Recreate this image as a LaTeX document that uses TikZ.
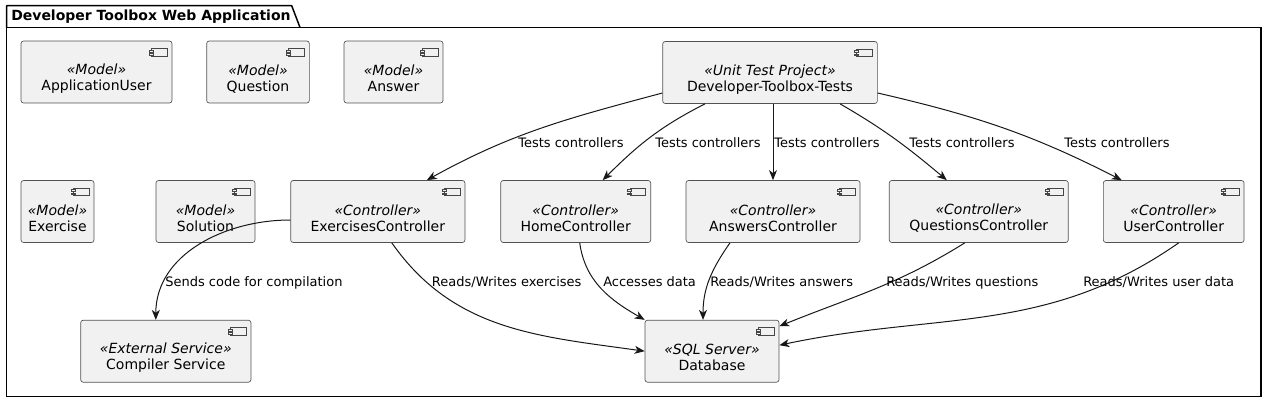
\documentclass[tikz,border=0pt]{standalone}
\usepackage{fontspec}
\setmainfont{DejaVu Sans}
\usetikzlibrary{arrows.meta}
\definecolor{boxfill}{HTML}{F1F1F1}
\definecolor{edge}{HTML}{181818}
\begin{document}
\begin{tikzpicture}[x=0.75pt, y=-0.75pt,
	comp/.style = {draw=edge!75, fill=boxfill, line width=0.5pt, rounded corners=1.9pt, inner sep=0pt, minimum height=46.5pt,
		path picture={
			\draw[draw=edge!80, line width=0.4pt, sharp corners] ([xshift=-15.5pt, yshift=-5.5pt]path picture bounding box.north east) rectangle ++(11.75pt,-5.75pt);
			\draw[draw=edge!80, fill=boxfill, line width=0.4pt, sharp corners] ([xshift=-17.25pt, yshift=-6.9pt]path picture bounding box.north east) rectangle ++(3pt,-1.3pt);
			\draw[draw=edge!80, fill=boxfill, line width=0.4pt, sharp corners] ([xshift=-17.25pt, yshift=-9.3pt]path picture bounding box.north east) rectangle ++(3pt,-1.3pt);
		}},
	txt/.style = {align=center, inner sep=0pt, yshift=-5pt, font=\fontsize{10.5}{12}\selectfont},
	lbl/.style = {anchor=base west, inner sep=0pt, font=\fontsize{9.75}{11}\selectfont},
	arr/.style = {draw=edge, line width=0.75pt, -{Stealth[length=7.5pt, width=6pt, inset=2.2pt]}}]
	\useasboundingbox (0,0) rectangle (1267,404);
	\draw[line width=1.1pt, line join=round] (6.7,27.5) -- (6.7,5.7) -- (291.7,5.7) -- (300,27.5);
	\draw[line width=1.1pt] (6.7,27.5) rectangle (1261,396.7);
	\node[anchor=base west, inner sep=0pt, font=\fontsize{10.5}{12}\selectfont\bfseries] (title) at (11,20.5) {Developer Toolbox Web Application};
	\node[comp, minimum width=113.25pt, label={[txt]center:{\textit{«Model»}\\ApplicationUser}}] (appuser) at (96.5,72) {};
	\node[comp, minimum width=77pt, label={[txt]center:{\textit{«Model»}\\Question}}] (question) at (258,72) {};
	\node[comp, minimum width=74.25pt, label={[txt]center:{\textit{«Model»}\\Answer}}] (answer) at (393.5,72) {};
	\node[comp, minimum width=161pt, label={[txt]center:{\textit{«Unit Test Project»}\\Developer-Toolbox-Tests}}] (tests) at (770,72.5) {};
	\node[comp, minimum width=54.75pt, label={[txt]center:{\textit{«Model»}\\Exercise}}] (exercise) at (57.5,211.5) {};
	\node[comp, minimum width=74.25pt, label={[txt]center:{\textit{«Model»}\\Solution}}] (solution) at (205.5,211.5) {};
	\node[comp, minimum width=130.7pt, label={[txt]center:{\textit{«Controller»}\\ExercisesController}}] (exctrl) at (377.8,211.5) {};
	\node[comp, minimum width=112.5pt, label={[txt]center:{\textit{«Controller»}\\HomeController}}] (homectrl) at (575.7,211.5) {};
	\node[comp, minimum width=130.5pt, label={[txt]center:{\textit{«Controller»}\\AnswersController}}] (answctrl) at (773,211.5) {};
	\node[comp, minimum width=134.25pt, label={[txt]center:{\textit{«Controller»}\\QuestionsController}}] (questctrl) at (978.8,211.5) {};
	\node[comp, minimum width=105.5pt, label={[txt]center:{\textit{«Controller»}\\UserController}}] (userctrl) at (1173.7,211.5) {};
	\node[comp, minimum width=127.7pt, label={[txt]center:{\textit{«External Service»}\\Compiler Service}}] (compiler) at (165.8,351.2) {};
	\node[comp, minimum width=100.5pt, label={[txt]center:{\textit{«SQL Server»}\\Database}}] (database) at (712,351.2) {};
	\draw[arr] ([shift={(0,20.5)}]tests.west) to[out=195, in=29] ([shift={(49,0)}]exctrl.north);
	\draw[arr] ([shift={(-65,0)}]tests.south) to[out=207, in=45] ([shift={(27,0)}]homectrl.north);
	\draw[arr] (answctrl.north |- tests.south) -- (answctrl.north);
	\draw[arr] ([shift={(70,0)}]tests.south) to[out=-30, in=140] ([shift={(-32,0)}]questctrl.north);
	\draw[arr] ([shift={(0,20.5)}]tests.east) to[out=-13, in=153] ([shift={(-52,0)}]userctrl.north);
	\draw[arr] ([shift={(0,8.5)}]exctrl.west) to[out=180, in=90] ([shift={(-10,0)}]compiler.north);
	\draw[arr] ([shift={(14,0)}]exctrl.south) to[out=-55, in=172] (database.west);
	\draw[arr] ([shift={(4,0)}]homectrl.south) to[out=-82, in=150] (database.north west);
	\draw[arr] ([shift={(-43,0)}]answctrl.south) to[out=-125, in=90] ([shift={(-9,0)}]database.north);
	\draw[arr] ([shift={(-14,0)}]questctrl.south) to[out=212, in=22] ([shift={(0,-25)}]database.east);
	\draw[arr] ([shift={(5,0)}]userctrl.south) to[out=215, in=12] ([shift={(0,-6)}]database.east);
	\node[lbl] (l1) at (518,147.3) {Tests controllers};
	\node[lbl] (l2) at (655,147.3) {Tests controllers};
	\node[lbl] (l3) at (774,147.3) {Tests controllers};
	\node[lbl] (l4) at (909,147.3) {Tests controllers};
	\node[lbl] (l5) at (1064,147.3) {Tests controllers};
	\node[lbl] (l6) at (165,286) {Sends code for compilation};
	\node[lbl] (l7) at (431.7,286) {Reads/Writes exercises};
	\node[lbl] (l8) at (603,286) {Accesses data};
	\node[lbl] (l9) at (710,286) {Reads/Writes answers};
	\node[lbl] (l10) at (886,286) {Reads/Writes questions};
	\node[lbl] (l11) at (1083,286) {Reads/Writes user data};
\end{tikzpicture}
\end{document}
